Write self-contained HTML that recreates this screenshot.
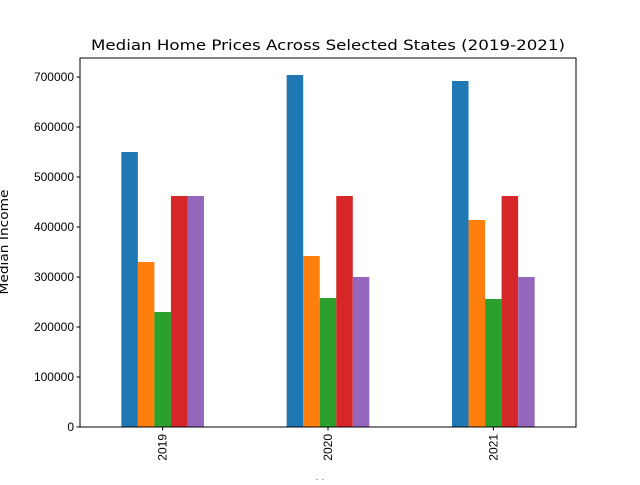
<!DOCTYPE html>
<html><head><meta charset="utf-8"><style>
body{margin:0;background:#fff}
svg text{font-family:"Liberation Sans","DejaVu Sans",sans-serif;fill:#000}
</style></head><body>
<svg id="chart" width="640" height="480" xmlns="http://www.w3.org/2000/svg">
<rect width="640" height="480" fill="#fff"/>
<text x="328" y="50" font-size="14" text-anchor="middle" textLength="474" lengthAdjust="spacingAndGlyphs" style="font-family:'DejaVu Sans',sans-serif">Median Home Prices Across Selected States (2019-2021)</text>
<g id="marks"></g>
<g id="axes"></g>
<text transform="translate(8,242) rotate(-90)" font-size="12" text-anchor="middle" textLength="105" lengthAdjust="spacingAndGlyphs" style="font-family:'DejaVu Sans',sans-serif">Median Income</text>
<text x="328" y="488" font-size="12" text-anchor="middle">Year</text>
</svg>
<script>
const categories=["2019","2020","2021"];
const series1=[550000,704000,692000];
const series2=[330000,342000,414000];
const series3=[230000,258000,256000];
const series4=[462000,462000,462000];
const series5=[462000,300000,300000];
const yTicks=[0,100000,200000,300000,400000,500000,600000,700000];
const colors=["#1f77b4","#ff7f0e","#2ca02c","#d62728","#9467bd"];
const allSeries=[series1,series2,series3,series4,series5];
const L=80,R=576,T=58,B=427;
const ns="http://www.w3.org/2000/svg";
const xs=v=>L+(v+0.5)*(R-L)/categories.length;
const ys=v=>B-v*(B-77)/700000;
const marks=document.getElementById('marks'),axes=document.getElementById('axes');
function mk(tag,attrs,parent){const e=document.createElementNS(ns,tag);for(const k in attrs)e.setAttribute(k,attrs[k]);parent.appendChild(e);return e;}
allSeries.forEach((s,si)=>{s.forEach((v,ci)=>{
 const x0=xs(ci-0.25+si*0.1),x1=xs(ci-0.25+(si+1)*0.1);
 const r=mk('rect',{x:x0,y:ys(v),width:x1-x0,height:B-ys(v),fill:colors[si]},marks);
 
 
});});
const frame=mk('rect',{x:L,y:T,width:R-L,height:B-T,fill:'none',stroke:'#000','stroke-width':1},axes);


yTicks.forEach(t=>{
 const y=ys(t);
 mk('line',{x1:L-3.5,x2:L,y1:y,y2:y,stroke:'#000'},axes);
 const tx=mk('text',{x:L-6,y:y+4,'font-size':12,'text-anchor':'end'},axes);
 tx.textContent=t;
 
 
});
categories.forEach((c,i)=>{
 const x=xs(i);
 mk('line',{x1:x,x2:x,y1:B,y2:B+3.5,stroke:'#000'},axes);
 const tx=mk('text',{transform:`translate(${x+4},${B+7}) rotate(-90)`,'font-size':12,'text-anchor':'end'},axes);
 tx.textContent=c;
 
 
});
</script>
</body></html>
